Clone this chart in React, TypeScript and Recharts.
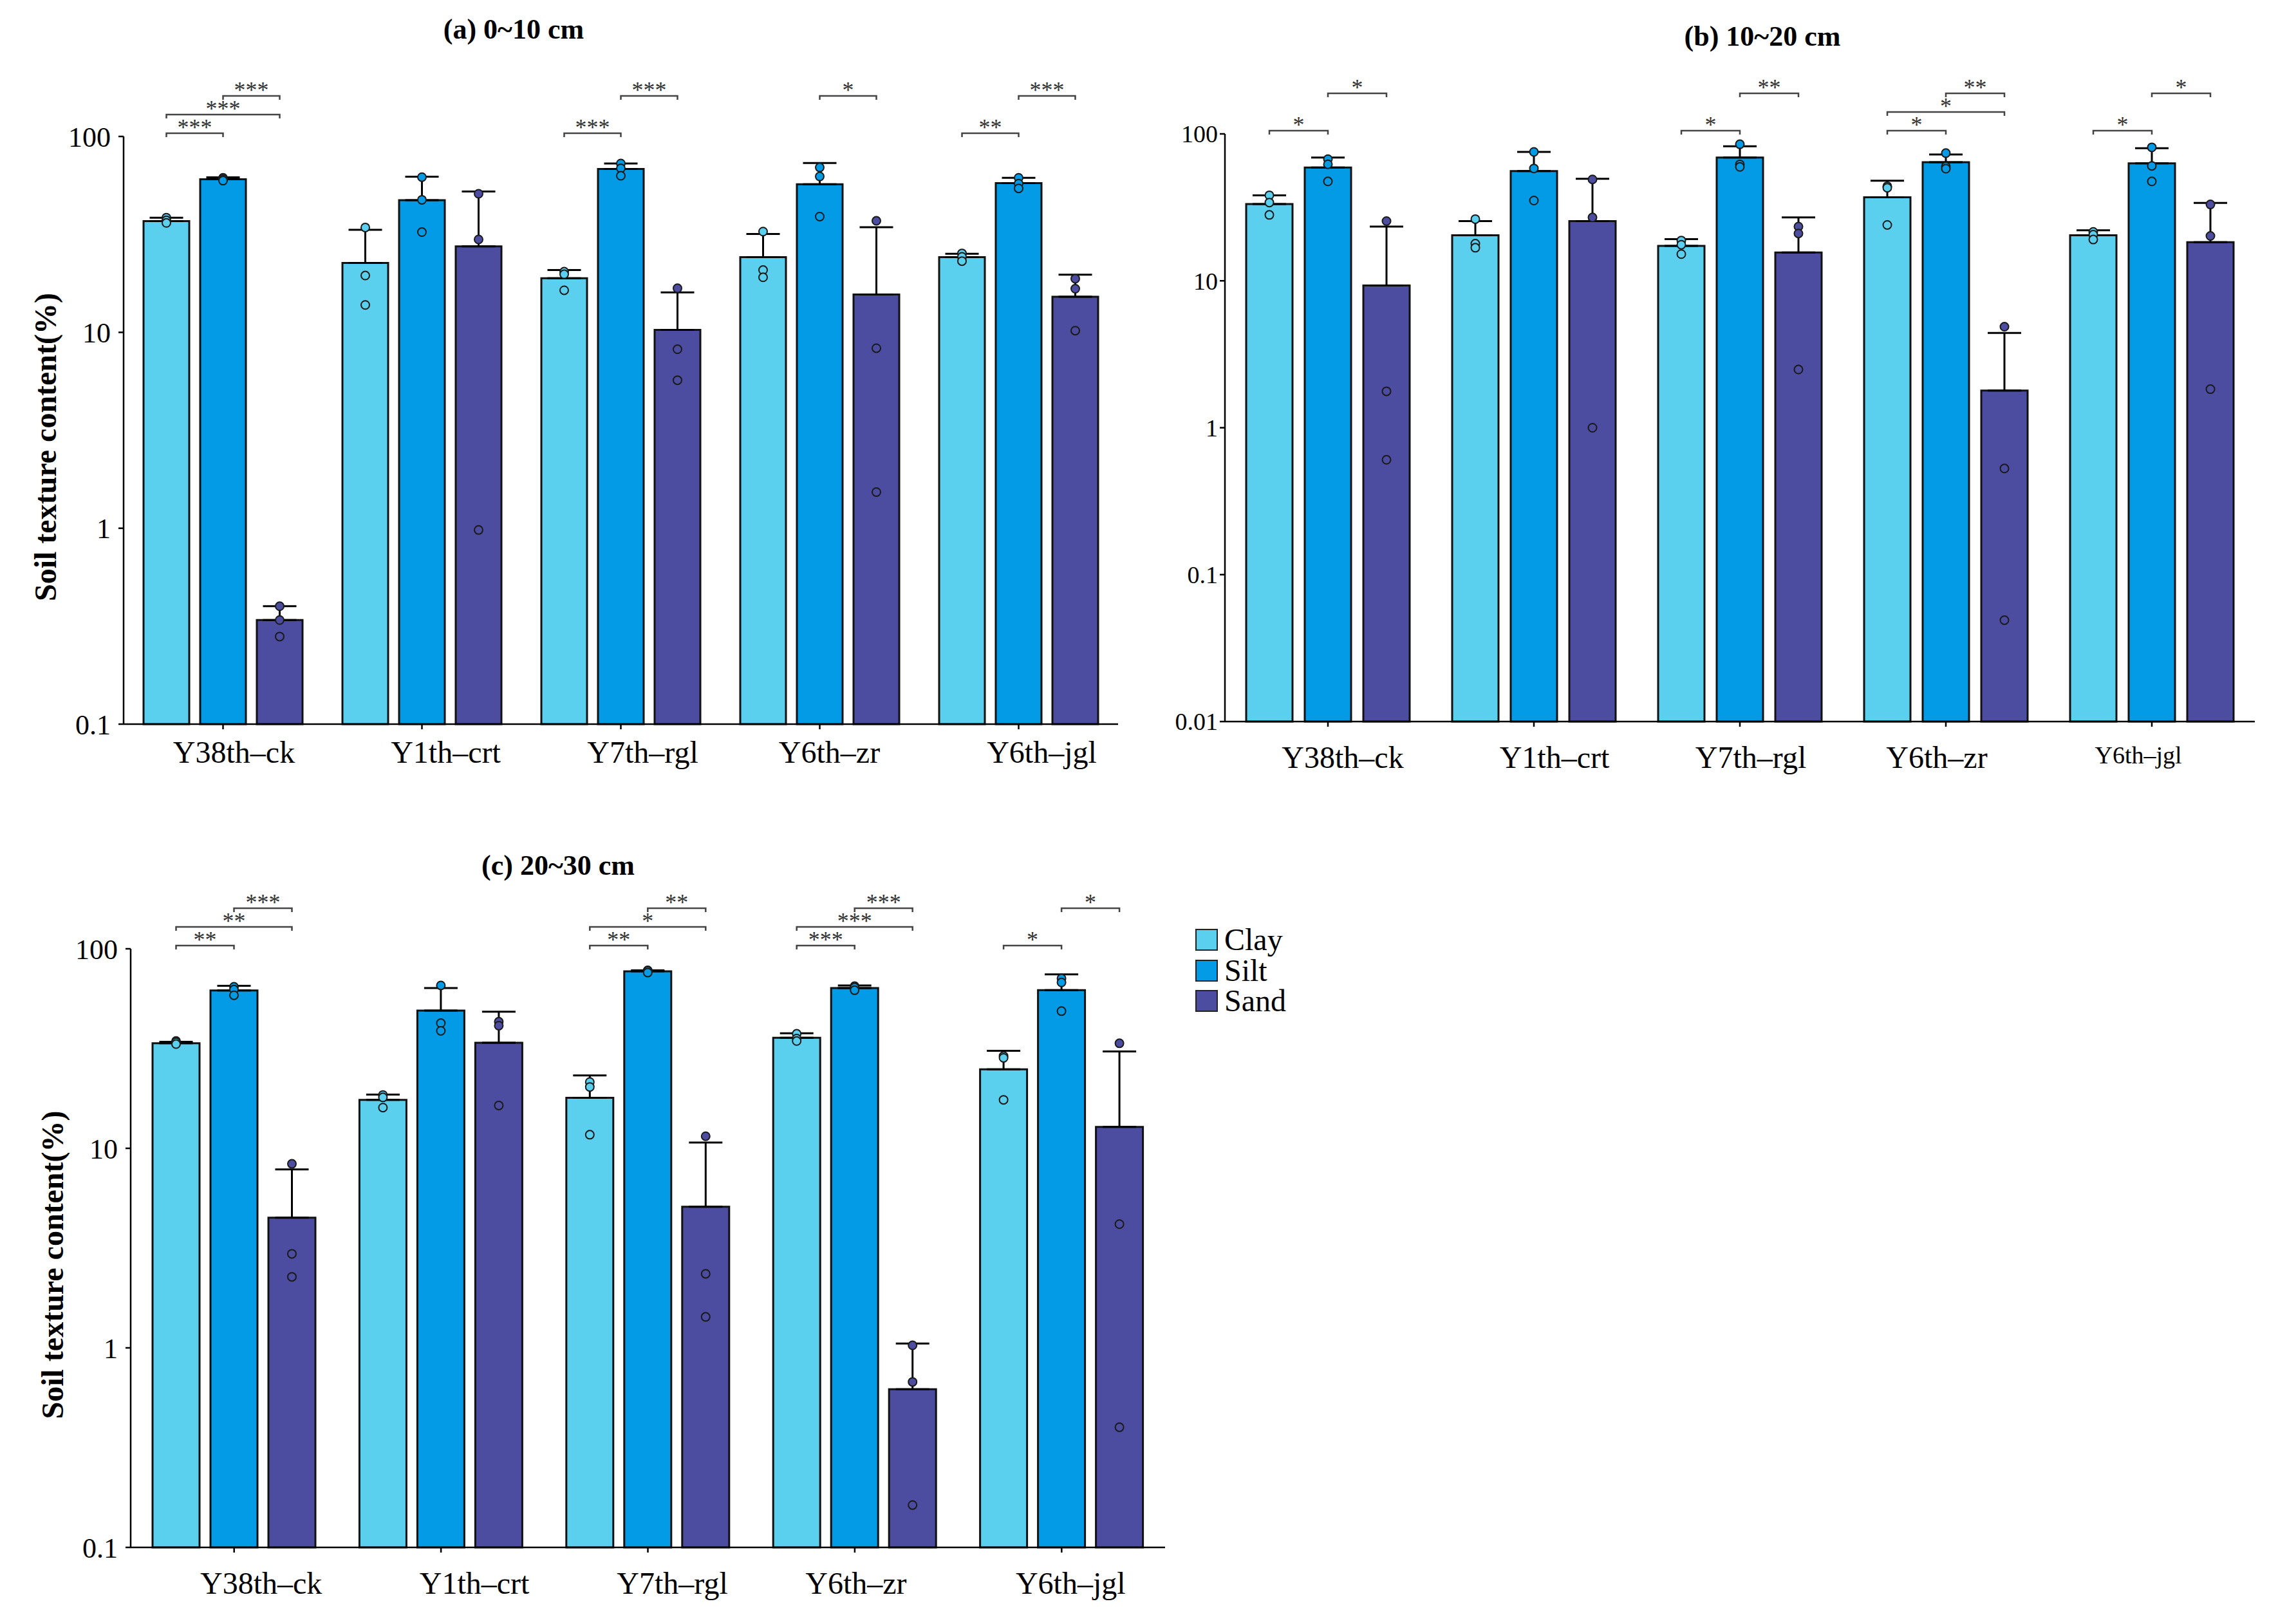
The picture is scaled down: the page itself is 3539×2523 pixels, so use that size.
import React from 'react';
import { BarChart, Bar, XAxis, YAxis, ErrorBar, LabelList } from 'recharts';

const groups = ['Y38th–ck', 'Y1th–crt', 'Y7th–rgl', 'Y6th–zr', 'Y6th–jgl'];
const seriesNames = ['Clay', 'Silt', 'Sand'];
const colors = ['#5bcfee', '#039be5', '#4c4ca0'];

// (a) 0~10 cm  -- means, upper error, replicate points
const clayA = [37, 22.6, 18.9, 24.2, 24.2];
const siltA = [60.5, 47.3, 68.2, 57, 57.8];
const sandA = [0.34, 27.5, 10.3, 15.6, 15.2];
const clayErrA = [1.5, 10.8, 1.9, 7.6, 1.0];
const siltErrA = [1.3, 15, 4.6, 16.2, 3.7];
const sandErrA = [0.06, 24.9, 5.7, 18.8, 4.5];
const clayPtsA = [[38.5, 37.3, 36.2], [34.3, 19.5, 13.8], [20.4, 19.8, 16.4], [32.7, 20.8, 19.1], [25.3, 24.3, 23.1]];
const siltPtsA = [[61.5, 60.5, 59.5], [62, 47.5, 32.5], [72.8, 68.8, 63], [69.5, 62.5, 39], [61.5, 57.5, 54.3]];
const sandPtsA = [[0.4, 0.34, 0.28], [51, 29.8, 0.98], [16.8, 8.2, 5.7], [37.1, 8.3, 1.53], [18.8, 16.7, 10.2]];
// [group, from, to, level, label]
const sigA: [number, number, number, number, string][] = [
  [0, 0, 1, 0, '***'], [0, 0, 2, 1, '***'], [0, 1, 2, 2, '***'],
  [2, 0, 1, 0, '***'], [2, 1, 2, 2, '***'],
  [3, 1, 2, 2, '*'],
  [4, 0, 1, 0, '**'], [4, 1, 2, 2, '***'],
];

// (b) 10~20 cm
const clayB = [33.3, 20.4, 17.3, 37, 20.4];
const siltB = [59.1, 55.9, 69, 64.1, 63];
const sandB = [9.3, 25.5, 15.6, 1.79, 18.3];
const clayErrB = [4.9, 5.1, 1.9, 11, 1.7];
const siltErrB = [9.9, 19.5, 13.4, 8.3, 16.8];
const sandErrB = [14.1, 24, 11.4, 2.63, 15.6];
const clayPtsB = [[38.2, 34.1, 28.1], [26.3, 17.9, 16.8], [18.8, 17.6, 15.2], [44, 43, 24], [21.5, 20.6, 19.1]];
const siltPtsB = [[67.3, 62.1, 47.5], [75.4, 58.2, 35.2], [85, 62, 59.6], [74, 60, 58], [81, 60.6, 47.5]];
const sandPtsB = [[25.5, 1.77, 0.605], [49, 27, 1.0], [23.4, 21, 2.49], [4.87, 0.528, 0.049], [33.1, 20.2, 1.83]];
const sigB: [number, number, number, number, string][] = [
  [0, 0, 1, 0, '*'], [0, 1, 2, 2, '*'],
  [2, 0, 1, 0, '*'], [2, 1, 2, 2, '**'],
  [3, 0, 1, 0, '*'], [3, 0, 2, 1, '*'], [3, 1, 2, 2, '**'],
  [4, 0, 1, 0, '*'], [4, 1, 2, 2, '*'],
];

// (c) 20~30 cm
const clayC = [33.6, 17.5, 17.9, 35.8, 24.9];
const siltC = [61.8, 49, 77.1, 63.6, 62.1];
const sandC = [4.49, 33.8, 5.1, 0.621, 12.8];
const clayErrC = [0.6, 1.1, 5.3, 1.9, 5.9];
const siltErrC = [3.4, 14.6, 0.9, 1.9, 12.3];
const sandErrC = [3.35, 14.6, 5.6, 0.43, 17.8];
const clayPtsC = [[34.5, 34, 33.3], [18.5, 18, 16], [21.5, 20.3, 11.7], [37.5, 35.5, 34.5], [29, 28.4, 17.5]];
const siltPtsC = [[64.5, 62.5, 58.5], [65.5, 42.4, 38.8], [78, 77.5, 76], [65, 64, 62], [71, 67.8, 48.7]];
const sandPtsC = [[8.36, 2.96, 2.27], [43.1, 41.2, 16.4], [11.5, 2.35, 1.43], [1.03, 0.675, 0.163], [33.6, 4.17, 0.4]];
const sigC: [number, number, number, number, string][] = [
  [0, 0, 1, 0, '**'], [0, 0, 2, 1, '**'], [0, 1, 2, 2, '***'],
  [2, 0, 1, 0, '**'], [2, 0, 2, 1, '*'], [2, 1, 2, 2, '**'],
  [3, 0, 1, 0, '***'], [3, 0, 2, 1, '***'], [3, 1, 2, 2, '***'],
  [4, 0, 1, 0, '*'], [4, 1, 2, 2, '*'],
];

const ticksAC = [0.1, 1, 10, 100];
const ticksB = [0.01, 0.1, 1, 10, 100];

const SERIF = '"Liberation Serif", "Times New Roman", serif';

type PanelProps = {
  means: number[][];
  errs: number[][];
  pts: number[][][];
  sig: [number, number, number, number, string][];
  ticks: number[];
  width: number;
  height: number;
  margin: { top: number; right: number; bottom: number; left: number };
  yAxisWidth: number;
  yTickFont: number;
  yTickMargin: number;
  barSize: number;
  barGap: number;
  tickDx: number[];
  tickFont: number[];
  tickMargin: number;
  yLabel: boolean;
};

function Panel(p: PanelProps) {
  const data = groups.map((g, i) => {
    const row: any = { group: g };
    seriesNames.forEach((s, k) => {
      row[s] = p.means[k][i];
      row[s + 'Err'] = [0, p.errs[k][i]];
    });
    return row;
  });
  const lo = p.ticks[0];
  const hi = p.ticks[p.ticks.length - 1];

  // replicate points (and significance brackets on the last series)
  const makeMarks = (k: number) => (props: any) => {
    const vb = props.viewBox || props;
    const i = props.index;
    const base = vb.y + vb.height;
    const ppd = vb.height / (Math.log10(p.means[k][i]) - Math.log10(lo));
    const py = (v: number) => base - (Math.log10(v) - Math.log10(lo)) * ppd;
    const cx = vb.x + vb.width / 2;
    const els: any[] = p.pts[k][i].map((v, j) => (
      <circle key={'p' + j} cx={cx} cy={py(v)} r={6.5} fill={colors[k]} stroke="#1a1a1a" strokeWidth={2} />
    ));
    if (k === 2) {
      const step = vb.width + p.barGap;
      const top = py(hi);
      p.sig.filter((s) => s[0] === i).forEach((s, j) => {
        const x1 = cx - (2 - s[1]) * step;
        const x2 = cx - (2 - s[2]) * step;
        const y = top - 5 - s[3] * 29;
        els.push(
          <g key={'s' + j}>
            <path d={`M${x1},${y + 6} V${y} H${x2} V${y + 6}`} fill="none" stroke="#444" strokeWidth={2.5} />
            <text x={(x1 + x2) / 2} y={y + 3} textAnchor="middle" fontFamily={SERIF} fontSize={36} fill="#333">
              {s[4]}
            </text>
          </g>
        );
      });
    }
    return <g>{els}</g>;
  };

  const XTick = (props: any) => {
    const { x, y, payload, index } = props;
    return (
      <text x={x + p.tickDx[index]} y={y} dy="0.71em" textAnchor="middle" fontFamily={SERIF} fontSize={p.tickFont[index]} fill="#000">
        {payload.value}
      </text>
    );
  };

  const YLabel = (props: any) => {
    const vb = props.viewBox || { x: 0, y: 0, width: 0, height: 0 };
    const x = vb.x + 28;
    const y = vb.y + vb.height / 2 + 26;
    return (
      <text x={x} y={y} transform={`rotate(-90, ${x}, ${y})`} textAnchor="middle" dominantBaseline="central"
        fontFamily={SERIF} fontWeight={700} fontSize={48} fill="#000">
        Soil texture content(%)
      </text>
    );
  };

  return (
    <BarChart width={p.width} height={p.height} data={data} margin={p.margin} barSize={p.barSize} barGap={p.barGap}>
      <XAxis
        dataKey="group"
        height={60}
        interval={0}
        axisLine={{ stroke: '#000', strokeWidth: 2.5 }}
        tickLine={{ stroke: '#000', strokeWidth: 2.5 }}
        tickSize={8}
        tickMargin={p.tickMargin}
        tick={(props: any) => <XTick {...props} />}
      />
      <YAxis
        type="number"
        scale="log"
        domain={[lo, hi]}
        ticks={p.ticks}
        width={p.yAxisWidth}
        axisLine={{ stroke: '#000', strokeWidth: 2.5 }}
        tickLine={{ stroke: '#000', strokeWidth: 2.5 }}
        tickSize={8}
        tickMargin={p.yTickMargin}
        tick={{ fontSize: p.yTickFont, fill: '#000', fontFamily: SERIF }}
        tickFormatter={(v: number) => String(v)}
        label={p.yLabel ? YLabel : undefined}
      />
      {seriesNames.map((s, k) => (
        <Bar key={s} dataKey={s} name={s} fill={colors[k]} stroke="#111" strokeWidth={3} isAnimationActive={false}>
          <ErrorBar dataKey={s + 'Err'} width={26} strokeWidth={3} stroke="#000" direction="y" />
          <LabelList dataKey={s} content={makeMarks(k)} />
        </Bar>
      ))}
    </BarChart>
  );
}

const titleStyle: React.CSSProperties = {
  position: 'absolute',
  transform: 'translate(-50%, -50%)',
  fontFamily: SERIF,
  fontWeight: 700,
  fontSize: 44,
  lineHeight: 1,
  whiteSpace: 'nowrap',
  color: '#000',
};

export default function App() {
  return (
    <div style={{ position: 'absolute', left: 0, top: 0, width: 3539, height: 2523, background: '#fff', overflow: 'hidden' }}>
      <div style={{ ...titleStyle, left: 798, top: 46 }}>(a) 0~10 cm</div>
      <div style={{ ...titleStyle, left: 2738, top: 57 }}>(b) 10~20 cm</div>
      <div style={{ ...titleStyle, left: 867, top: 1345 }}>(c) 20~30 cm</div>

      <div style={{ position: 'absolute', left: 0, top: 0 }}>
        <Panel
          means={[clayA, siltA, sandA]}
          errs={[clayErrA, siltErrA, sandErrA]}
          pts={[clayPtsA, siltPtsA, sandPtsA]}
          sig={sigA}
          ticks={ticksAC}
          width={1760}
          height={1250}
          margin={{ top: 212, right: 23, bottom: 65, left: 42 }}
          yAxisWidth={150}
          yTickFont={44}
          yTickMargin={12}
          barSize={71}
          barGap={17}
          tickDx={[17, 37, 34, 15, 36]}
          tickFont={[48, 48, 48, 48, 48]}
          tickMargin={18}
          yLabel={true}
        />
      </div>

      <div style={{ position: 'absolute', left: 1760, top: 0 }}>
        <Panel
          means={[clayB, siltB, sandB]}
          errs={[clayErrB, siltErrB, sandErrB]}
          pts={[clayPtsB, siltPtsB, sandPtsB]}
          sig={sigB}
          ticks={ticksB}
          width={1779}
          height={1250}
          margin={{ top: 208, right: 36, bottom: 69, left: 43 }}
          yAxisWidth={100}
          yTickFont={38}
          yTickMargin={3}
          barSize={72}
          barGap={19}
          tickDx={[23, 32, 17, -14, -21]}
          tickFont={[48, 48, 48, 48, 38]}
          tickMargin={30}
          yLabel={false}
        />
      </div>

      <div style={{ position: 'absolute', left: 0, top: 1300 }}>
        <Panel
          means={[clayC, siltC, sandC]}
          errs={[clayErrC, siltErrC, sandErrC]}
          pts={[clayPtsC, siltPtsC, sandPtsC]}
          sig={sigC}
          ticks={ticksAC}
          width={1840}
          height={1223}
          margin={{ top: 174, right: 30, bottom: 59, left: 53 }}
          yAxisWidth={150}
          yTickFont={44}
          yTickMargin={12}
          barSize={73}
          barGap={17}
          tickDx={[42, 52, 38, 2, 14]}
          tickFont={[48, 48, 48, 48, 48]}
          tickMargin={30}
          yLabel={true}
        />
      </div>

      {seriesNames.map((s, k) => (
        <div key={s} style={{ position: 'absolute', left: 1857, top: 1443 + k * 47.5, height: 34, display: 'flex', alignItems: 'center' }}>
          <div style={{ width: 35, height: 34, boxSizing: 'border-box', border: '2.5px solid #222', background: colors[k] }} />
          <span style={{ marginLeft: 10, fontFamily: SERIF, fontSize: 48, lineHeight: 1, color: '#000' }}>{s}</span>
        </div>
      ))}
    </div>
  );
}
